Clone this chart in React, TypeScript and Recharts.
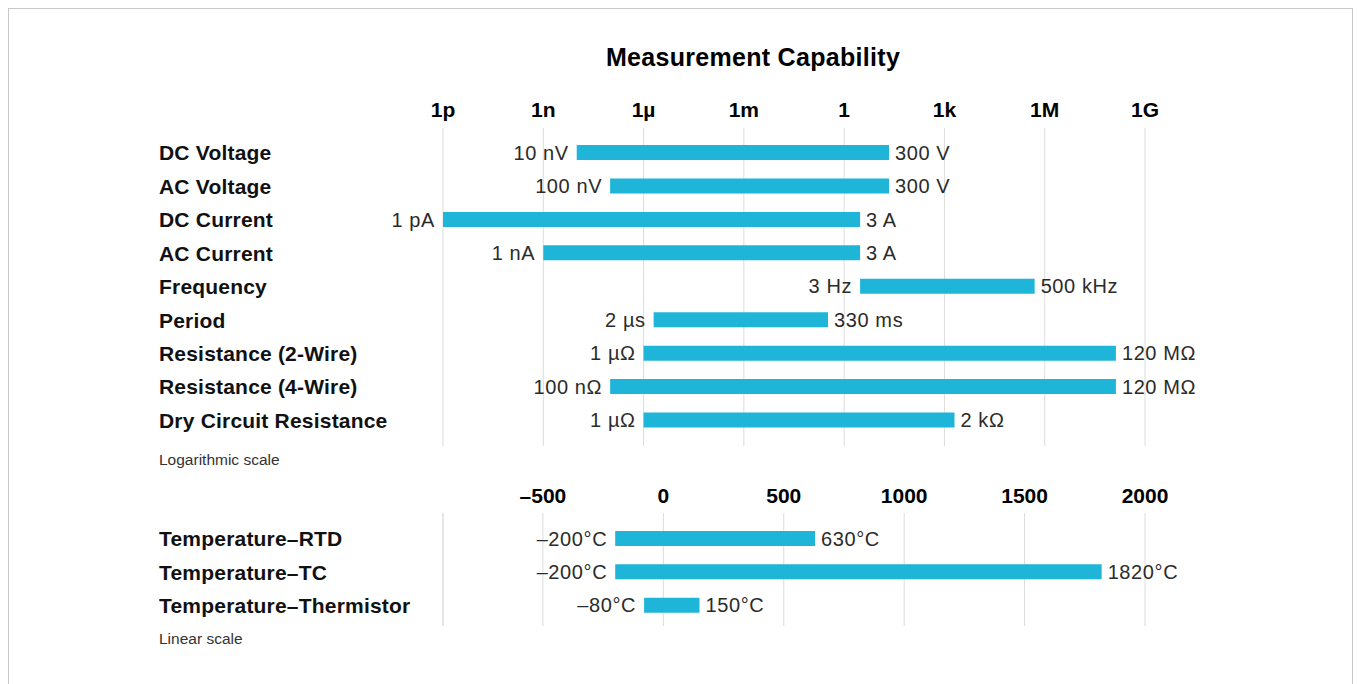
import React from "react";
import {
  BarChart,
  Bar,
  XAxis,
  YAxis,
  CartesianGrid,
  LabelList,
  ReferenceLine,
} from "recharts";

// log-scale section (values in SI base units)
const logCategories = [
  "DC Voltage",
  "AC Voltage",
  "DC Current",
  "AC Current",
  "Frequency",
  "Period",
  "Resistance (2-Wire)",
  "Resistance (4-Wire)",
  "Dry Circuit Resistance",
];
const logLow = [1e-8, 1e-7, 1e-12, 1e-9, 3, 2e-6, 1e-6, 1e-7, 1e-6];
const logHigh = [22, 22, 3, 3, 5e5, 0.33, 1.35e8, 1.35e8, 2e3];
const logLowLabels = ["10 nV", "100 nV", "1 pA", "1 nA", "3 Hz", "2 µs", "1 µΩ", "100 nΩ", "1 µΩ"];
const logHighLabels = ["300 V", "300 V", "3 A", "3 A", "500 kHz", "330 ms", "120 MΩ", "120 MΩ", "2 kΩ"];
const logTickValues = [1e-12, 1e-9, 1e-6, 1e-3, 1, 1e3, 1e6, 1e9];
const logTickLabels = ["1p", "1n", "1µ", "1m", "1", "1k", "1M", "1G"];

// linear-scale section (°C)
const tempCategories = ["Temperature\u2013RTD", "Temperature\u2013TC", "Temperature\u2013Thermistor"];
const tempLow = [-200, -200, -80];
const tempHigh = [630, 1820, 150];
const tempLowLabels = ["\u2013200°C", "\u2013200°C", "\u201380°C"];
const tempHighLabels = ["630°C", "1820°C", "150°C"];
const tempTicks = [-500, 0, 500, 1000, 1500, 2000];
const tempAxisMin = -915;
const tempAxisMax = 2000;

const BAR = "#1fb5d8";
const GRID = "#dcdcdc";
const FONT = '"Liberation Sans", Arial, Helvetica, sans-serif';

const logExp = logTickValues.map((v) => Math.log10(v));

const logData = logCategories.map((name, i) => ({
  name,
  range: [Math.log10(logLow[i]), Math.log10(logHigh[i])],
  lo: logLowLabels[i],
  hi: logHighLabels[i],
}));

const tempData = tempCategories.map((name, i) => ({
  name,
  range: [tempLow[i], tempHigh[i]],
  lo: tempLowLabels[i],
  hi: tempHighLabels[i],
}));

const RowTick = (props: any) => {
  const { y, payload } = props;
  return (
    <text
      x={150}
      y={y}
      dy="0.36em"
      fontSize={21}
      fontWeight={700}
      letterSpacing={0.2}
      fill="#111"
    >
      {payload.value}
    </text>
  );
};

const sideLabel = (side: "left" | "right") => (props: any) => {
  const vb = props.viewBox || props;
  const x = Number(vb.x);
  const y = Number(vb.y);
  const w = Number(vb.width);
  const h = Number(vb.height);
  const tx = side === "left" ? x - 8 : x + w + 6;
  return (
    <text
      x={tx}
      y={y + h / 2}
      dy="0.36em"
      textAnchor={side === "left" ? "end" : "start"}
      fontSize={20}
      letterSpacing={0.6}
      fill="#2b2b2b"
    >
      {props.value}
    </text>
  );
};

const tickStyle = { fontSize: 21, fontWeight: 700, fill: "#000" };

export default function App() {
  return (
    <div
      style={{
        position: "relative",
        width: 1343,
        height: 700,
        border: "1px solid #c8c8c8",
        background: "#fff",
        fontFamily: FONT,
        overflow: "hidden",
      }}
    >
      <div
        style={{
          position: "absolute",
          top: 34,
          left: 744,
          transform: "translateX(-50%)",
          fontSize: 25,
          lineHeight: "28px",
          letterSpacing: 0.3,
          fontWeight: 700,
          whiteSpace: "nowrap",
          color: "#000",
        }}
      >
        Measurement Capability
      </div>

      <div style={{ position: "absolute", top: 0, left: 0 }}>
        <BarChart
          width={1343}
          height={450}
          layout="vertical"
          data={logData}
          margin={{ top: 0, right: 207, bottom: 13, left: 0 }}
        >
          <CartesianGrid horizontal={false} stroke={GRID} />
          <XAxis
            type="number"
            orientation="top"
            domain={[logExp[0], logExp[logExp.length - 1]]}
            ticks={logExp}
            interval={0}
            height={119}
            axisLine={false}
            tickLine={false}
            tickSize={0}
            tickMargin={11}
            tick={tickStyle}
            tickFormatter={(v: number) => logTickLabels[logExp.indexOf(v)] ?? ""}
          />
          <YAxis
            type="category"
            dataKey="name"
            width={434}
            interval={0}
            axisLine={false}
            tickLine={false}
            padding={{ top: 8, bottom: 9 }}
            tick={<RowTick />}
          />
          <Bar dataKey="range" fill={BAR} barSize={15} isAnimationActive={false}>
            <LabelList dataKey="lo" content={sideLabel("left")} />
            <LabelList dataKey="hi" content={sideLabel("right")} />
          </Bar>
        </BarChart>
      </div>

      <div
        style={{
          position: "absolute",
          top: 441,
          left: 150,
          fontSize: 15.5,
          lineHeight: "20px",
          color: "#333",
        }}
      >
        Logarithmic scale
      </div>

      <div style={{ position: "absolute", top: 460, left: 0 }}>
        <BarChart
          width={1343}
          height={170}
          layout="vertical"
          data={tempData}
          margin={{ top: 0, right: 207, bottom: 13, left: 0 }}
        >
          <CartesianGrid horizontal={false} stroke={GRID} />
          <ReferenceLine x={tempAxisMin} stroke={GRID} />
          <XAxis
            type="number"
            orientation="top"
            domain={[tempAxisMin, tempAxisMax]}
            ticks={tempTicks}
            interval={0}
            height={44}
            axisLine={false}
            tickLine={false}
            tickSize={0}
            tickMargin={10}
            tick={tickStyle}
            tickFormatter={(v: number) => (v < 0 ? "\u2013" + Math.abs(v) : String(v))}
          />
          <YAxis
            type="category"
            dataKey="name"
            width={434}
            interval={0}
            axisLine={false}
            tickLine={false}
            padding={{ top: 9, bottom: 4 }}
            tick={<RowTick />}
          />
          <Bar dataKey="range" fill={BAR} barSize={15} isAnimationActive={false}>
            <LabelList dataKey="lo" content={sideLabel("left")} />
            <LabelList dataKey="hi" content={sideLabel("right")} />
          </Bar>
        </BarChart>
      </div>

      <div
        style={{
          position: "absolute",
          top: 620,
          left: 150,
          fontSize: 15.5,
          lineHeight: "20px",
          color: "#333",
        }}
      >
        Linear scale
      </div>
    </div>
  );
}
